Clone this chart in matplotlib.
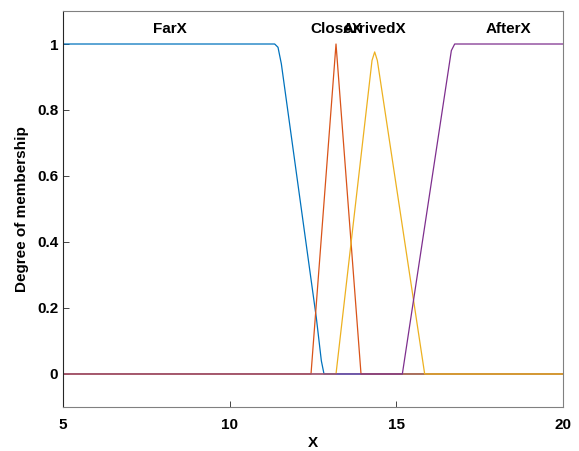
import matplotlib.pyplot as plt
import numpy as np

plt.rcParams['font.family'] = ['Liberation Sans', 'DejaVu Sans']

# membership functions
far_x = [5, 11.35, 11.45, 11.55, 12.6, 12.75, 12.83, 20]
far_y = [1, 1, 0.99, 0.94, 0.17, 0.04, 0, 0]
close_x = [5, 12.44, 13.19, 13.94, 20]
close_y = [0, 0, 1, 0, 0]
arrived_x = [5, 13.19, 14.27, 14.35, 14.43, 15.85, 20]
arrived_y = [0, 0, 0.95, 0.976, 0.95, 0, 0]
after_x = [5, 15.18, 16.65, 16.75, 20]
after_y = [0, 0, 0.98, 1, 1]

names = ["FarX", "CloseX", "ArrivedX", "AfterX"]
label_x = [8.2, 13.19, 14.33, 18.37]
colors = ["#0072BD", "#D95319", "#EDB120", "#7E2F8E"]

fig = plt.figure(figsize=(5.79, 4.51), dpi=100)
ax = fig.add_axes([0.1088, 0.0976, 0.8636, 0.878])

curves = [(far_x, far_y), (close_x, close_y), (arrived_x, arrived_y), (after_x, after_y)]
for (cx, cy), c in zip(curves, colors):
    ax.plot(cx, cy, color=c, linewidth=0.9)

for n, lx in zip(names, label_x):
    ax.text(lx, 1.045, n, ha='center', va='center', fontsize=11, fontweight='bold')

ax.set_xlim(5, 20)
ax.set_ylim(-0.1, 1.1)
ax.set_xticks([5, 10, 15, 20])
ax.set_yticks([0, 0.2, 0.4, 0.6, 0.8, 1])
ax.set_yticklabels(["0", "0.2", "0.4", "0.6", "0.8", "1"])
ax.tick_params(direction='in', length=4, width=0.6, labelsize=11, color='#262626')
ax.tick_params(axis='x', pad=8)
for lab in ax.get_xticklabels() + ax.get_yticklabels():
    lab.set_fontweight('bold')
for s in ax.spines.values():
    s.set_color('#808080')
    s.set_linewidth(0.8)
ax.spines['left'].set_color('#262626')
ax.set_xlabel("X", fontsize=11, fontweight='bold', labelpad=3)
ax.set_ylabel("Degree of membership", fontsize=11, fontweight='bold', labelpad=6)

plt.savefig("out.png", dpi=100)
